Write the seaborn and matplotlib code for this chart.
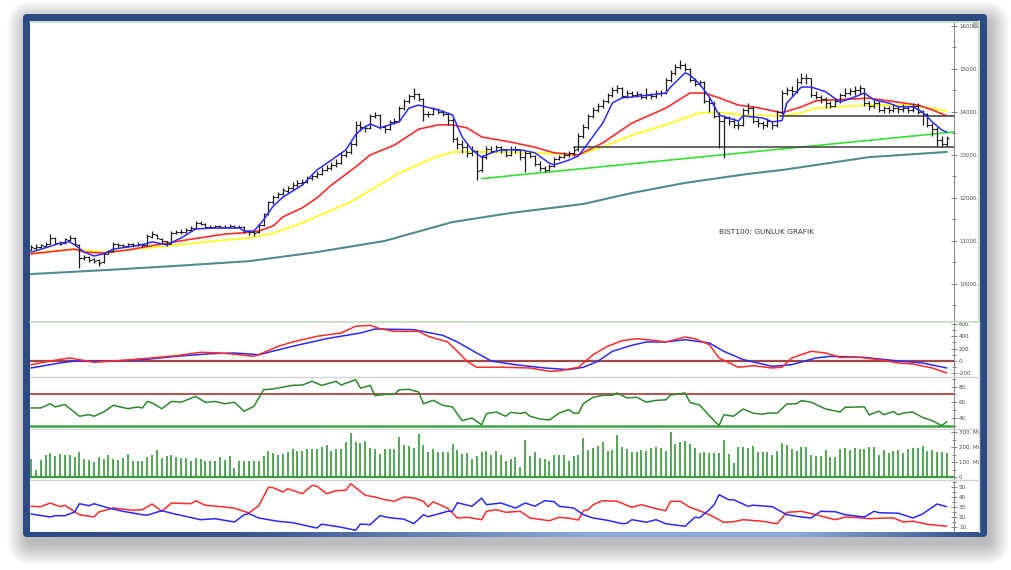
import matplotlib
matplotlib.use("Agg")
import matplotlib.pyplot as plt
import numpy as np
import seaborn as sns
from matplotlib.colors import LinearSegmentedColormap
from matplotlib.patches import FancyBboxPatch, Rectangle

# ---- daily price bars (BIST100) ----
close_px = [10850, 10870, 10900, 10930, 11080, 10960, 10940, 11040, 11080, 10930,
            10600, 10620, 10560, 10540, 10490, 10700, 10760, 10930, 10900, 10880,
            10920, 10900, 10940, 10900, 11110, 11150, 11060, 10990, 10930, 11190,
            11200, 11210, 11260, 11290, 11420, 11400, 11330, 11320, 11340, 11330,
            11320, 11340, 11320, 11330, 11230, 11200, 11190, 11360, 11620, 11900,
            12020, 12100, 12180, 12220, 12300, 12350, 12380, 12460, 12500, 12560,
            12660, 12700, 12770, 12820, 13000, 13060, 13250, 13700, 13650, 13620,
            13900, 13930, 13650, 13600, 13760, 13800, 14100, 14250, 14360, 14420,
            14300, 13950, 13950, 14060, 14000, 13960, 13820, 13380, 13250, 13180,
            13050, 13120, 12620, 12950, 13150, 13100, 13180, 13120, 13000, 13150,
            13120, 12950, 13050, 12980, 12800, 12700, 12650, 12750, 12900, 12950,
            13000, 13050, 13120, 13450, 13650, 13900, 14050, 14150, 14250, 14400,
            14500, 14550, 14380, 14450, 14400, 14420, 14350, 14400, 14380, 14450,
            14450, 14750, 14900, 15050, 15100, 15000, 14750, 14650, 14700, 14250,
            14200, 13900, 13800, 13850, 13780, 13700, 13700, 14050, 14100, 13800,
            13750, 13700, 13780, 13700, 14000, 14450, 14500, 14480, 14700, 14800,
            14780, 14400, 14350, 14300, 14200, 14150, 14250, 14400, 14450, 14480,
            14500, 14550, 14200, 14150, 14200, 14050, 14100, 14050, 14100, 14080,
            14100, 14050, 14150, 14000, 13950, 13700, 13600, 13350, 13250, 13400]
open_px = [10800, 10840, 10860, 10890, 10940, 11070, 10960, 10950, 11030, 11070,
           10900, 10610, 10630, 10570, 10550, 10500, 10700, 10770, 10920, 10900,
           10880, 10920, 10900, 10930, 10910, 11100, 11140, 11050, 10990, 10940,
           11180, 11200, 11210, 11250, 11290, 11410, 11390, 11330, 11320, 11340,
           11330, 11320, 11340, 11320, 11330, 11230, 11200, 11200, 11370, 11620,
           11900, 12020, 12100, 12170, 12230, 12300, 12350, 12380, 12460, 12500,
           12560, 12660, 12700, 12770, 12820, 13000, 13060, 13250, 13700, 13650,
           13620, 13900, 13920, 13650, 13600, 13760, 13800, 14100, 14250, 14360,
           14420, 14300, 13950, 13950, 14060, 14000, 13960, 13820, 13380, 13250,
           13180, 13050, 13100, 12650, 12950, 13150, 13100, 13180, 13120, 13000,
           13150, 13120, 12950, 13050, 12980, 12800, 12700, 12650, 12750, 12900,
           12950, 13000, 13050, 13130, 13450, 13650, 13900, 14050, 14150, 14250,
           14400, 14500, 14550, 14380, 14450, 14400, 14420, 14350, 14400, 14380,
           14450, 14450, 14750, 14900, 15050, 15100, 15000, 14750, 14650, 14700,
           14250, 14200, 13900, 13800, 13850, 13780, 13700, 13700, 14050, 14100,
           13800, 13750, 13700, 13780, 13700, 14000, 14450, 14500, 14480, 14700,
           14800, 14780, 14400, 14350, 14300, 14200, 14150, 14250, 14400, 14450,
           14480, 14500, 14550, 14200, 14150, 14200, 14050, 14100, 14050, 14100,
           14080, 14100, 14050, 14150, 14000, 13950, 13700, 13600, 13350, 13250]
high_px = [10900, 10920, 10940, 10980, 11150, 11090, 11000, 11080, 11130, 11090,
           10920, 10680, 10650, 10600, 10580, 10720, 10800, 10980, 10960, 10940,
           10960, 10950, 10980, 10960, 11150, 11230, 11160, 11070, 11000, 11230,
           11260, 11270, 11300, 11340, 11470, 11460, 11420, 11370, 11380, 11380,
           11370, 11390, 11380, 11370, 11350, 11260, 11240, 11400, 11660, 11940,
           12080, 12150, 12240, 12280, 12360, 12420, 12440, 12520, 12560, 12620,
           12720, 12760, 12830, 12900, 13060, 13120, 13300, 13800, 13780, 13700,
           13950, 14000, 13950, 13700, 13820, 13850, 14150, 14300, 14420, 14550,
           14450, 14320, 14030, 14120, 14100, 14050, 14000, 13850, 13420, 13350,
           13250, 13200, 13120, 13000, 13200, 13200, 13230, 13200, 13150, 13200,
           13200, 13150, 13100, 13080, 13000, 12850, 12750, 12800, 12950, 13000,
           13080, 13100, 13200, 13500, 13720, 13950, 14120, 14220, 14300, 14450,
           14580, 14620, 14580, 14500, 14480, 14480, 14450, 14560, 14450, 14500,
           14520, 14800, 14980, 15120, 15200, 15150, 15020, 14800, 14750, 14720,
           14350, 14250, 14000, 13930, 13900, 13850, 13780, 14100, 14200, 14150,
           13850, 13800, 13850, 13800, 14050, 14520, 14580, 14600, 14780, 14900,
           14880, 14800, 14480, 14400, 14350, 14250, 14300, 14450, 14560, 14550,
           14600, 14620, 14560, 14250, 14280, 14250, 14150, 14150, 14180, 14150,
           14180, 14150, 14220, 14200, 14050, 13980, 13750, 13650, 13450, 13450]
low_px = [10780, 10800, 10830, 10860, 10920, 10930, 10900, 10920, 11000, 10900,
          10380, 10560, 10500, 10480, 10410, 10480, 10690, 10750, 10860, 10850,
          10860, 10870, 10880, 10870, 10890, 11080, 11040, 10960, 10880, 10920,
          11150, 11170, 11180, 11230, 11270, 11360, 11300, 11290, 11300, 11290,
          11290, 11300, 11290, 11290, 11190, 11140, 11110, 11180, 11350, 11600,
          11870, 11990, 12070, 12120, 12190, 12260, 12300, 12350, 12420, 12470,
          12530, 12620, 12660, 12730, 12790, 12950, 13030, 13220, 13550, 13540,
          13600, 13850, 13600, 13500, 13580, 13720, 13780, 14050, 14200, 14300,
          14250, 13800, 13880, 13920, 13950, 13900, 13700, 13300, 13150, 13050,
          12950, 12980, 12420, 12600, 12900, 13050, 13060, 13050, 12950, 12980,
          13050, 12880, 12600, 12930, 12750, 12620, 12600, 12620, 12720, 12880,
          12920, 12950, 12980, 13100, 13400, 13600, 13850, 14000, 14100, 14200,
          14350, 14450, 14330, 14330, 14350, 14350, 14300, 14300, 14300, 14330,
          14380, 14420, 14700, 14850, 15000, 14950, 14700, 14600, 14600, 14200,
          14000, 13850, 13160, 12930, 13700, 13620, 13600, 13680, 13950, 13750,
          13650, 13600, 13650, 13600, 13650, 13950, 14400, 14380, 14450, 14650,
          14650, 14350, 14300, 14200, 14100, 14100, 14120, 14200, 14350, 14400,
          14400, 14420, 14150, 14050, 14100, 14000, 13980, 13980, 14000, 13980,
          14000, 13980, 14000, 13950, 13700, 13650, 13450, 13200, 13180, 13200]

# ---- volume (millions) ----
volume = [122, 44, 115, 144, 162, 138, 155, 149, 144, 131,
          169, 118, 115, 100, 133, 122, 149, 122, 113, 124,
          153, 109, 107, 107, 131, 144, 182, 124, 138, 144,
          131, 129, 129, 107, 124, 120, 109, 109, 109, 136,
          116, 140, 62, 107, 104, 109, 109, 109, 142, 171,
          162, 144, 151, 167, 189, 173, 171, 189, 189, 187,
          202, 211, 171, 189, 189, 233, 296, 236, 229, 240,
          196, 189, 156, 189, 187, 189, 269, 213, 209, 196,
          284, 213, 167, 189, 169, 169, 169, 218, 178, 156,
          158, 122, 140, 164, 176, 144, 173, 144, 109, 122,
          131, 64, 249, 138, 164, 129, 120, 107, 147, 149,
          144, 104, 142, 144, 258, 178, 191, 209, 236, 171,
          182, 280, 202, 184, 164, 167, 182, 171, 191, 198,
          193, 173, 298, 222, 231, 242, 218, 191, 160, 164,
          158, 162, 160, 249, 151, 96, 202, 202, 191, 207,
          169, 167, 167, 149, 173, 224, 213, 187, 176, 198,
          198, 147, 142, 138, 182, 133, 136, 184, 191, 182,
          191, 189, 189, 200, 200, 149, 182, 158, 173, 182,
          162, 184, 191, 191, 204, 176, 178, 167, 169, 160]

# ---- moving averages, read at bar positions ----
blue_k = [0, 3, 6, 8, 9, 11, 13, 15, 17, 20, 23, 25, 28, 31, 34, 38, 43, 44, 46, 48,
          50, 52, 56, 59, 62, 65, 67, 68, 70, 72, 74, 76, 78, 80, 84, 87, 89, 91, 93, 95,
          97, 101, 104, 107, 108, 111, 113, 115, 118, 120, 122, 124, 128, 131, 132, 135, 136, 138, 140, 142,
          144, 146, 147, 151, 153, 155, 156, 159, 161, 164, 167, 170, 172, 174, 177, 179, 182, 184, 186, 188, 189]
blue_v = [10740, 10840, 10950, 10980, 10910, 10740, 10650, 10700, 10810, 10860,
          10910, 10980, 10910, 11070, 11280, 11300, 11300, 11230, 11230, 11490,
          11810, 12020, 12300, 12650, 12880, 13120, 13470, 13580, 13720, 13630,
          13700, 13770, 14090, 14160, 14050, 13930, 13420, 13120, 12950, 13050,
          13120, 13120, 13050, 12810, 12770, 12880, 12980, 13280, 13740, 14210,
          14330, 14350, 14400, 14440, 14580, 14910, 14860, 14650, 14350, 13930,
          13860, 13790, 13910, 13860, 13770, 13800, 14210, 14580, 14580, 14470,
          14230, 14350, 14440, 14280, 14210, 14120, 14120, 14000, 13770, 13580, 13530]
red_k = [0, 9, 11, 15, 20, 26, 33, 40, 44, 47, 50, 52, 56, 59, 62, 67, 70, 75, 80, 84,
         87, 90, 93, 99, 104, 108, 113, 118, 124, 131, 136, 139, 142, 146, 150, 155, 159, 162, 169, 173,
         177, 183, 186, 189]
red_v = [10700, 10810, 10740, 10720, 10790, 10910, 11040, 11160, 11190, 11230,
         11350, 11560, 11770, 12000, 12300, 12720, 13000, 13230, 13600, 13700,
         13700, 13630, 13420, 13300, 13180, 13050, 13000, 13280, 13740, 14090,
         14440, 14440, 14330, 14160, 14100, 13980, 14120, 14260, 14300, 14320,
         14260, 14160, 14050, 13910]
yellow_k = [0, 9, 15, 26, 40, 45, 50, 56, 66, 76, 83, 87, 93, 99, 106, 113, 118, 124, 131, 138,
            142, 148, 155, 159, 162, 173, 179, 183, 189]
yellow_v = [10720, 10810, 10740, 10860, 11020, 11070, 11180, 11420, 11910, 12580,
            12930, 13070, 13070, 13060, 13040, 13000, 13190, 13460, 13700, 13980,
            13990, 13920, 13910, 13980, 14090, 14160, 14160, 14140, 14020]
teal_k = [0, 15, 30, 45, 59, 73, 87, 99, 114, 124, 135, 148, 155, 173, 189]
teal_v = [10230, 10320, 10420, 10530, 10740, 11000, 11440, 11650, 11860, 12115,
          12350, 12560, 12650, 12950, 13070]

# ---- drawn trend / support lines ----
trend_k = [93, 190.5]
trend_v = [12450, 13535]
support_start = [112, 154.6]
support_v = [13190, 13906]

# ---- MACD ----
macd_k = [0, 4, 8, 13, 17, 23, 30, 35, 39, 43, 46, 47, 51, 54, 59, 64, 67, 70, 72, 75,
          80, 82, 86, 88, 90, 92, 97, 103, 107, 109, 113, 116, 119, 122, 125, 129, 131, 135, 137, 140,
          142, 146, 149, 153, 155, 157, 161, 164, 167, 171, 175, 179, 182, 186, 189]
macd_v = [-60, 0, 49, -21, 0, 37, 86, 141, 130, 102, 76, 102, 238, 308, 400, 454, 562, 578, 524, 481,
          481, 400, 308, 157, -5, -102, -100, -113, -167, -160, -102, 102, 238, 330, 362, 330, 308, 389, 362, 265,
          49, -102, -76, -113, -100, 49, 157, 130, 59, 59, 22, -32, -49, -113, -194]
signal_k = [0, 6, 9, 16, 23, 30, 37, 42, 47, 54, 61, 68, 71, 79, 85, 88, 92, 95, 100, 106,
            111, 114, 117, 120, 124, 127, 131, 135, 140, 143, 147, 153, 157, 162, 165, 172, 179, 184, 189]
signal_v = [-113, -32, 0, -5, 21, 76, 118, 130, 102, 238, 362, 454, 519, 508, 416, 308, 130, 0, -60, -113,
            -140, -102, -5, 157, 254, 308, 308, 346, 292, 157, 22, -86, -60, 49, 76, 59, 0, -32, -113]

# ---- RSI ----
rsi_k = [0, 2, 4, 5, 7, 10, 12, 13, 15, 17, 20, 22, 23, 24, 25, 27, 29, 31, 34, 36,
         38, 40, 42, 44, 46, 48, 50, 54, 56, 58, 60, 63, 64, 67, 68, 70, 71, 73, 75, 76,
         78, 80, 81, 83, 85, 87, 89, 91, 93, 94, 96, 98, 99, 101, 102, 103, 105, 107, 109, 111,
         112, 113, 114, 116, 118, 120, 121, 123, 125, 127, 129, 131, 132, 135, 136, 138, 140, 142, 143, 145,
         147, 149, 151, 152, 154, 156, 158, 159, 161, 164, 167, 168, 172, 173, 175, 176, 178, 179, 180, 182,
         184, 186, 188, 189]
rsi_v = [52.6, 52.6, 58, 53.9, 57, 42, 44, 42, 47.4, 56, 51.7, 53.8, 52.6, 61, 59, 51.7, 61, 60, 67.5, 59.7,
         61, 58, 60, 48.3, 54.7, 76, 77, 81.6, 82, 86.8, 81.6, 86.8, 82, 88.9, 78, 81.6, 68.4, 70, 70, 76,
         76.5, 73, 58, 62.4, 56, 53.9, 36.3, 39.7, 31, 45.3, 47.4, 42, 47, 45.5, 47, 42, 38.5, 37.2, 46, 50.4,
         46, 46, 58, 66.3, 68.8, 68.8, 71.8, 65.5, 66.3, 60, 62.4, 63, 69.2, 71.8, 59.7, 56.3, 42.7, 30, 44, 42,
         51.3, 46, 44.5, 46, 46, 57.7, 58, 62, 60, 51.3, 47.4, 53.4, 54, 43.6, 48.6, 44, 48, 44, 46, 47.4,
         40.5, 36.3, 30, 35]

# ---- DMI ----
pdi_k = [0, 2, 4, 6, 7, 10, 13, 14, 17, 21, 23, 25, 27, 29, 33, 34, 36, 40, 42, 45,
         47, 49, 50, 52, 53, 56, 58, 59, 61, 63, 65, 66, 69, 71, 73, 75, 77, 79, 81, 82,
         83, 86, 88, 90, 93, 94, 96, 98, 101, 103, 107, 109, 111, 113, 114, 115, 116, 118, 121, 124,
         126, 129, 131, 132, 134, 136, 138, 140, 143, 145, 147, 151, 154, 156, 159, 162, 166, 168, 171, 173,
         175, 178, 180, 182, 185, 189]
pdi_v = [30.4, 30, 33.7, 30, 31.4, 22, 19.7, 24.7, 28.7, 26.4, 27, 32.7, 25.4, 33.7, 33, 36, 31.4, 29.7, 28.5, 23.7,
         31, 49.4, 49, 44.7, 48, 43, 51.4, 50.5, 43, 46, 46.5, 53, 41.4, 39.7, 37, 35.5, 39.7, 38.7, 35.4, 30,
         35, 28.4, 18.7, 19.5, 17, 25.4, 27, 24.4, 25.4, 18.7, 16, 19.4, 18.5, 16.7, 26, 27, 32, 36, 35.4, 29.4,
         32, 28, 26, 35.4, 35.4, 29.4, 26, 22, 14.4, 15, 17, 15.4, 13, 24.4, 25.4, 22, 17, 19.7, 19, 18,
         18.5, 18.8, 14.7, 15.5, 12.4, 10.4]
mdi_k = [0, 4, 5, 7, 9, 10, 12, 13, 16, 19, 23, 24, 27, 29, 35, 38, 42, 44, 45, 47,
         51, 54, 59, 60, 64, 67, 68, 70, 72, 74, 77, 79, 81, 82, 86, 87, 88, 91, 93, 94,
         97, 100, 102, 104, 106, 108, 109, 112, 114, 116, 119, 122, 123, 124, 127, 129, 131, 135, 137, 138,
         140, 141, 142, 144, 145, 148, 149, 153, 156, 159, 161, 163, 166, 168, 172, 174, 175, 179, 182, 184,
         187, 189]
mdi_v = [22.7, 19.7, 21, 21, 24.7, 33, 31, 33, 28.7, 25.4, 22, 21.5, 26, 23.5, 17, 18, 14.7, 22, 23, 18.7,
         15.4, 14, 8.7, 12.5, 9.5, 6.4, 12.7, 12, 21, 19, 17.5, 13, 22, 20, 25.4, 25.4, 34, 30.4, 38.5, 32,
         33.7, 28.7, 33.7, 30.5, 36, 35, 30.4, 28.7, 22, 18.7, 16.4, 13, 13.5, 17, 14.5, 17, 13, 10.4, 19.4, 19,
         27, 32, 42, 37, 37, 30.4, 31.5, 30, 22, 19.7, 18.7, 25.4, 25, 22, 19.7, 25.4, 24, 23.5, 18.7, 22.7,
         32.7, 30]

W, H = 1011, 570
FRAME = "#2c4b84"
XLIM = (-0.2, 190.5)

sns.set_style("white")
plt.rcParams["font.family"] = ["DejaVu Sans"]

fig = plt.figure(figsize=(W / 100, H / 100), dpi=100)
fig.patch.set_facecolor("white")


def px_box(x0, y0, x1, y1):
    return [x0 / W, 1 - y1 / H, (x1 - x0) / W, (y1 - y0) / H]


# background: shadow, blue frame, white inside
bg = fig.add_axes([0, 0, 1, 1], zorder=0)
for i in range(14):
    g = 1.5 * i
    bg.add_patch(FancyBboxPatch((27 - g, 21 - g), 963 + 2 * g, 524 + 2 * g,
                                boxstyle=f"round,pad=0,rounding_size={5 + g}",
                                fc="black", ec="none", alpha=0.02))
bg.add_patch(FancyBboxPatch((23, 14), 964, 523, boxstyle="round,pad=0,rounding_size=4",
                            fc=FRAME, ec="none"))
ramp = np.interp(np.linspace(0, 1, 400), [0, 0.22, 0.6, 0.8, 1], [0, 0.1, 1, 1, 0.05])
edge_cmap = LinearSegmentedColormap.from_list("edge", [FRAME, "#8fabde"])
bg.imshow(ramp[None, :], extent=(27, 983, 537, 531.5), cmap=edge_cmap, vmin=0, vmax=1,
          aspect="auto", zorder=3)
bg.add_patch(Rectangle((30, 21), 950, 511, fc="white", ec="none", zorder=4))
bg.set_xlim(0, W)
bg.set_ylim(H, 0)
bg.axis("off")


def panel(y0, y1, lo, hi):
    ax = fig.add_axes(px_box(30, y0, 954, y1), zorder=2)
    ax.set_facecolor("white")
    ax.set_xlim(*XLIM)
    ax.set_ylim(lo, hi)
    for s in ("left", "top", "bottom"):
        ax.spines[s].set_visible(False)
    ax.spines["right"].set_color("#8a8a8a")
    ax.spines["right"].set_linewidth(0.8)
    ax.set_xticks([])
    ax.yaxis.tick_right()
    ax.tick_params(axis="y", which="both", direction="inout", colors="#707070",
                   labelcolor="#4a4a4a", labelsize=4, pad=1.5, width=0.6)
    ax.tick_params(axis="y", which="major", length=4)
    ax.tick_params(axis="y", which="minor", length=2.5)
    return ax


def set_ticks(ax, major, labels, minor):
    ax.set_yticks(major)
    ax.set_yticklabels(labels)
    ax.set_yticks(minor, minor=True)


days = np.arange(len(close_px))

# ---- price panel ----
ax = panel(21, 321, 9138, 16116)
set_ticks(ax, list(range(10000, 16001, 1000)), [f"{v}." for v in range(10000, 16001, 1000)],
          list(range(9500, 16001, 500)))
sns.lineplot(x=teal_k, y=teal_v, ax=ax, color="#4f8c8c", linewidth=1.5)
sns.lineplot(x=yellow_k, y=yellow_v, ax=ax, color="#ffff22", linewidth=1.3)
sns.lineplot(x=red_k, y=red_v, ax=ax, color="#ff2a2a", linewidth=1.2)
ax.plot(trend_k, trend_v, color="#33e033", lw=1.2)
for start, level in zip(support_start, support_v):
    ax.plot([start, XLIM[1]], [level, level], color="#4a4a4a", lw=1.2)
ax.vlines(days, low_px, high_px, color="#1e1e1e", lw=0.9)
ax.hlines(open_px, days - 0.5, days, color="#1e1e1e", lw=0.8)
ax.hlines(close_px, days, days + 0.5, color="#1e1e1e", lw=0.8)
sns.lineplot(x=blue_k, y=blue_v, ax=ax, color="#2a2aff", linewidth=1.1)
ax.text(141.9, 11208, "BIST100: GUNLUK GRAFIK", fontsize=5.3, color="#3a3a3a",
        ha="left", va="center")
ax.set_xlim(*XLIM)

# ---- MACD ----
ax = panel(322, 376, -243, 632)
set_ticks(ax, [-200, 0, 200, 400, 600], ["-200.", "0", "200.", "400.", "600."],
          list(range(-200, 601, 100)))
ax.axhline(0, color="#a04848", lw=1.6)
sns.lineplot(x=signal_k, y=signal_v, ax=ax, color="#2a2aff", linewidth=1.1)
sns.lineplot(x=macd_k, y=macd_v, ax=ax, color="#ff2a2a", linewidth=1.1)
ax.set_xlim(*XLIM)

# ---- RSI ----
ax = panel(377, 428, 26.9, 92.3)
set_ticks(ax, [40, 60, 80], ["40.", "60.", "80."], [30, 50, 70, 90])
ax.axhline(70, color="#aa3434", lw=1.2)
ax.axhline(30, color="#3da53d", lw=1.8)
sns.lineplot(x=rsi_k, y=rsi_v, ax=ax, color="#2a8a2a", linewidth=1.1)
ax.set_xlim(*XLIM)

# ---- volume ----
ax = panel(429, 479, -13, 320)
set_ticks(ax, [0, 100, 200, 300], ["0", "100. Mr", "200. Mr", "300. Mr"], [50, 150, 250])
ax.vlines(days, 0, volume, color="#45a045", lw=1.3)
ax.axhline(0, color="#3d9b3d", lw=1.6)
ax.set_xlim(*XLIM)

# ---- DMI ----
ax = panel(480, 532, 4.7, 56.7)
set_ticks(ax, [10, 20, 30, 40, 50], ["10.", "20.", "30.", "40.", "50."],
          [15, 25, 35, 45, 55])
sns.lineplot(x=pdi_k, y=pdi_v, ax=ax, color="#ff2a2a", linewidth=1.1)
sns.lineplot(x=mdi_k, y=mdi_v, ax=ax, color="#2a2aff", linewidth=1.1)
ax.set_xlim(*XLIM)

# ---- separators and small corner box ----
ov = fig.add_axes([0, 0, 1, 1], zorder=5)
ov.patch.set_alpha(0)
ov.set_xlim(0, W)
ov.set_ylim(H, 0)
ov.axis("off")
ov.plot([30, 979], [21.5, 21.5], color="#b9e2b9", lw=1.2)
ov.plot([30, 979], [321.5, 321.5], color="#b9e2b9", lw=1.2)
for y in (376.8, 428.6, 479.6):
    ov.plot([30, 979], [y, y], color="#d2d2d2", lw=1.0)
ov.plot([978.5, 978.5], [21, 321.5], color="#b9e2b9", lw=1.2)
ov.plot([978.5, 978.5], [321.5, 532], color="#dcdcdc", lw=1.0)
ov.add_patch(Rectangle((972.5, 21.5), 5, 5, fc="#b8b8b8", ec="#8c8c8c", lw=0.5))

fig.savefig("out.png", dpi=100, facecolor="white")
